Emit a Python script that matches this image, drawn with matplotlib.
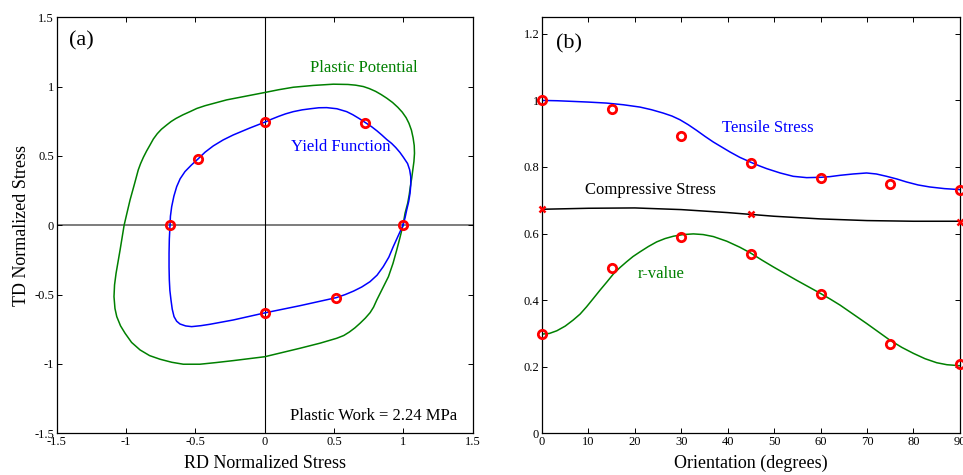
import matplotlib
matplotlib.use("Agg")
import matplotlib.pyplot as plt

plt.rcParams['font.family'] = ['Liberation Serif', 'DejaVu Serif']

# ---- (a) yield locus and plastic potential in the RD-TD stress plane ----
yield_x = [0.997, 1.012, 1.024, 1.038, 1.048, 1.053, 1.053, 1.045, 1.030, 1.000,
           0.975, 0.945, 0.915, 0.880, 0.845, 0.810, 0.770, 0.726, 0.680, 0.635,
           0.591, 0.520, 0.447, 0.390, 0.330, 0.270, 0.206, 0.150, 0.100, 0.050,
           0.000, -0.110, -0.227, -0.300, -0.371, -0.430, -0.481, -0.530, -0.575, -0.610,
           -0.635, -0.655, -0.671, -0.680, -0.683, -0.688, -0.690, -0.690, -0.688, -0.684,
           -0.676, -0.667, -0.654, -0.635, -0.611, -0.570, -0.527, -0.460, -0.395, -0.227,
           0.000, 0.254, 0.516, 0.580, 0.640, 0.700, 0.759, 0.810, 0.855, 0.895,
           0.927, 0.962, 0.997]
yield_y = [0.000, 0.055, 0.111, 0.170, 0.231, 0.290, 0.350, 0.400, 0.445, 0.490,
           0.525, 0.560, 0.590, 0.618, 0.650, 0.680, 0.711, 0.740, 0.770, 0.797,
           0.819, 0.840, 0.848, 0.847, 0.840, 0.832, 0.819, 0.803, 0.785, 0.765,
           0.743, 0.700, 0.651, 0.615, 0.572, 0.527, 0.478, 0.433, 0.387, 0.335,
           0.278, 0.210, 0.134, 0.065, 0.000, -0.100, -0.202, -0.300, -0.394, -0.470,
           -0.539, -0.605, -0.659, -0.692, -0.712, -0.726, -0.731, -0.724, -0.714, -0.683,
           -0.632, -0.580, -0.522, -0.500, -0.475, -0.445, -0.407, -0.360, -0.298, -0.230,
           -0.154, -0.077, 0.000]

pot_x = [0.997, 1.012, 1.031, 1.042, 1.050, 1.060, 1.068, 1.076, 1.080, 1.078,
         1.070, 1.058, 1.040, 1.020, 0.992, 0.960, 0.922, 0.880, 0.840, 0.800,
         0.755, 0.711, 0.655, 0.600, 0.495, 0.350, 0.206, 0.100, 0.000, -0.274,
         -0.430, -0.490, -0.539, -0.590, -0.640, -0.675, -0.707, -0.745, -0.775, -0.803,
         -0.827, -0.852, -0.875, -0.895, -0.912, -0.940, -0.971, -0.993, -1.014, -1.043,
         -1.072, -1.083, -1.087, -1.080, -1.067, -1.040, -1.007, -0.960, -0.899, -0.830,
         -0.755, -0.670, -0.587, -0.467, -0.350, -0.227, 0.000, 0.254, 0.400, 0.519,
         0.570, 0.610, 0.650, 0.687, 0.725, 0.760, 0.785, 0.808, 0.850, 0.892,
         0.925, 0.952, 0.975, 0.997]
pot_y = [0.000, 0.087, 0.159, 0.220, 0.278, 0.340, 0.400, 0.460, 0.519, 0.575,
         0.630, 0.685, 0.735, 0.775, 0.815, 0.850, 0.885, 0.916, 0.942, 0.965,
         0.985, 1.000, 1.010, 1.015, 1.017, 1.008, 0.995, 0.977, 0.957, 0.904,
         0.862, 0.842, 0.819, 0.796, 0.770, 0.748, 0.723, 0.692, 0.660, 0.622,
         0.579, 0.535, 0.490, 0.445, 0.399, 0.295, 0.183, 0.090, 0.000, -0.178,
         -0.346, -0.430, -0.515, -0.600, -0.659, -0.725, -0.779, -0.845, -0.899, -0.940,
         -0.966, -0.988, -1.002, -1.002, -0.990, -0.976, -0.948, -0.887, -0.850, -0.815,
         -0.795, -0.770, -0.740, -0.707, -0.670, -0.630, -0.590, -0.539, -0.455, -0.371,
         -0.275, -0.178, -0.090, 0.000]

# measured yield stresses (normalized)
meas_x = [1.000, 0.726, 0.000, -0.481, -0.683, 0.000, 0.516]
meas_y = [0.000, 0.740, 0.743, 0.478, 0.000, -0.632, -0.522]

# ---- (b) directional properties ----
ang_t = [0, 3.3, 6.7, 10, 13.9, 17.5, 21.1, 23.6, 26.1, 28, 29.7, 31.5, 33.3, 35.1,
         36.9, 38.7, 40.5, 42.6, 45, 46.7, 48.4, 51.3, 54.1, 57, 60, 62, 64.2, 67,
         69.9, 72, 74.2, 76.4, 78.5, 81, 83.5, 86.7, 90]
tensile_fit = [1.000, 0.999, 0.997, 0.995, 0.992, 0.987, 0.980, 0.972, 0.962, 0.953,
               0.942, 0.927, 0.910, 0.892, 0.875, 0.860, 0.845, 0.829, 0.814, 0.804,
               0.795, 0.782, 0.772, 0.768, 0.769, 0.771, 0.775, 0.779, 0.782, 0.779,
               0.772, 0.764, 0.755, 0.746, 0.740, 0.735, 0.732]

ang_r = [0, 1.6, 3.2, 5, 6.7, 8.2, 9.6, 11, 12.5, 14, 15.4, 16.8, 18.2, 19.6, 21.1,
         22.9, 24.7, 26.5, 28.3, 30.4, 32.6, 34.7, 36.9, 39.8, 42.6, 45, 47.4, 49.8,
         52.3, 54.8, 57.4, 60, 62.1, 64.2, 67, 69.9, 72.4, 74.9, 77.5, 80, 82.5, 85,
         87.2, 90]
r_fit = [0.298, 0.300, 0.308, 0.322, 0.340, 0.358, 0.380, 0.404, 0.430, 0.455, 0.479,
         0.498, 0.515, 0.531, 0.545, 0.561, 0.575, 0.585, 0.592, 0.597, 0.599, 0.597,
         0.591, 0.577, 0.559, 0.541, 0.520, 0.500, 0.480, 0.460, 0.440, 0.420, 0.403,
         0.385, 0.358, 0.330, 0.305, 0.280, 0.258, 0.240, 0.224, 0.212, 0.206, 0.203]

ang_c = [0, 10, 20, 30, 40, 50, 60, 70, 80, 90]
comp_fit = [0.673, 0.676, 0.677, 0.672, 0.663, 0.652, 0.644, 0.639, 0.637, 0.637]

ang_exp = [0, 15, 30, 45, 60, 75, 90]
tensile_exp = [1.000, 0.973, 0.894, 0.813, 0.768, 0.749, 0.731]
r_exp = [0.297, 0.498, 0.590, 0.538, 0.419, 0.267, 0.208]
ang_cexp = [0, 45, 90]
comp_exp = [0.673, 0.659, 0.634]

blue = '#0000ff'
green = '#008000'
red = '#ff0000'
fs_note = 12

fig = plt.figure(figsize=(9.63, 4.75), dpi=100, facecolor='white')
ax1 = fig.add_axes([0.0589, 0.0878, 0.432, 0.876])
ax2 = fig.add_axes([0.5628, 0.0878, 0.434, 0.876])

for ax in (ax1, ax2):
    for s in ax.spines.values():
        s.set_linewidth(0.9)
    ax.tick_params(direction='in', top=True, right=True, length=3.5, width=0.7,
                   labelsize=9, pad=2)

# (a)
ax1.axhline(0, color='0.35', lw=1.1, zorder=1)
ax1.axvline(0, color='black', lw=0.8, zorder=1)
ax1.plot(pot_x, pot_y, color=green, lw=1.1, zorder=2)
ax1.plot(yield_x, yield_y, color=blue, lw=1.1, zorder=3)
ax1.plot(meas_x, meas_y, 'o', ls='none', mfc='none', mec=red, ms=6, mew=2, zorder=4)
ax1.set_xlim(-1.5, 1.5)
ax1.set_ylim(-1.5, 1.5)
ticks = [-1.5, -1, -0.5, 0, 0.5, 1, 1.5]
tlabels = ['-1.5', '-1', '-0.5', '0', '0.5', '1', '1.5']
ax1.set_xticks(ticks)
ax1.set_xticklabels(tlabels)
ax1.set_yticks(ticks)
ax1.set_yticklabels(tlabels)
ax1.set_xlabel('RD Normalized Stress', fontsize=13, labelpad=5)
ax1.set_ylabel('TD Normalized Stress', fontsize=13, labelpad=3)
ax1.text(-1.41, 1.33, '(a)', fontsize=16, va='center', ha='left')
ax1.text(0.33, 1.134, 'Plastic Potential', color=green, fontsize=fs_note, va='center', ha='left')
ax1.text(0.19, 0.565, 'Yield Function', color=blue, fontsize=fs_note, va='center', ha='left')
ax1.text(1.39, -1.378, 'Plastic Work = 2.24 MPa', fontsize=fs_note, va='center', ha='right')

# (b)
ax2.plot(ang_t, tensile_fit, color=blue, lw=1.1, zorder=2)
ax2.plot(ang_c, comp_fit, color='black', lw=1.1, zorder=2)
ax2.plot(ang_r, r_fit, color=green, lw=1.1, zorder=2)
ax2.plot(ang_exp, tensile_exp, 'o', ls='none', mfc='none', mec=red, ms=6, mew=2,
         zorder=4, clip_on=False)
ax2.plot(ang_exp, r_exp, 'o', ls='none', mfc='none', mec=red, ms=6, mew=2,
         zorder=4, clip_on=False)
ax2.plot(ang_cexp, comp_exp, 'x', ls='none', color=red, ms=5, mew=1.8,
         zorder=4, clip_on=False)
ax2.set_xlim(0, 90)
ax2.set_ylim(0, 1.25)
ax2.set_xticks(range(0, 91, 10))
ax2.set_yticks([0, 0.2, 0.4, 0.6, 0.8, 1.0, 1.2])
ax2.set_yticklabels(['0', '0.2', '0.4', '0.6', '0.8', '1', '1.2'])
ax2.set_xlabel('Orientation (degrees)', fontsize=13, labelpad=5)
ax2.text(3.0, 1.169, '(b)', fontsize=16, va='center', ha='left')
ax2.text(38.7, 0.917, 'Tensile Stress', color=blue, fontsize=fs_note, va='center', ha='left')
ax2.text(9.3, 0.730, 'Compressive Stress', color='black', fontsize=fs_note, va='center', ha='left')
ax2.text(20.7, 0.479, 'r-value', color=green, fontsize=fs_note, va='center', ha='left')

fig.savefig('out.png', dpi=100, facecolor='white')
